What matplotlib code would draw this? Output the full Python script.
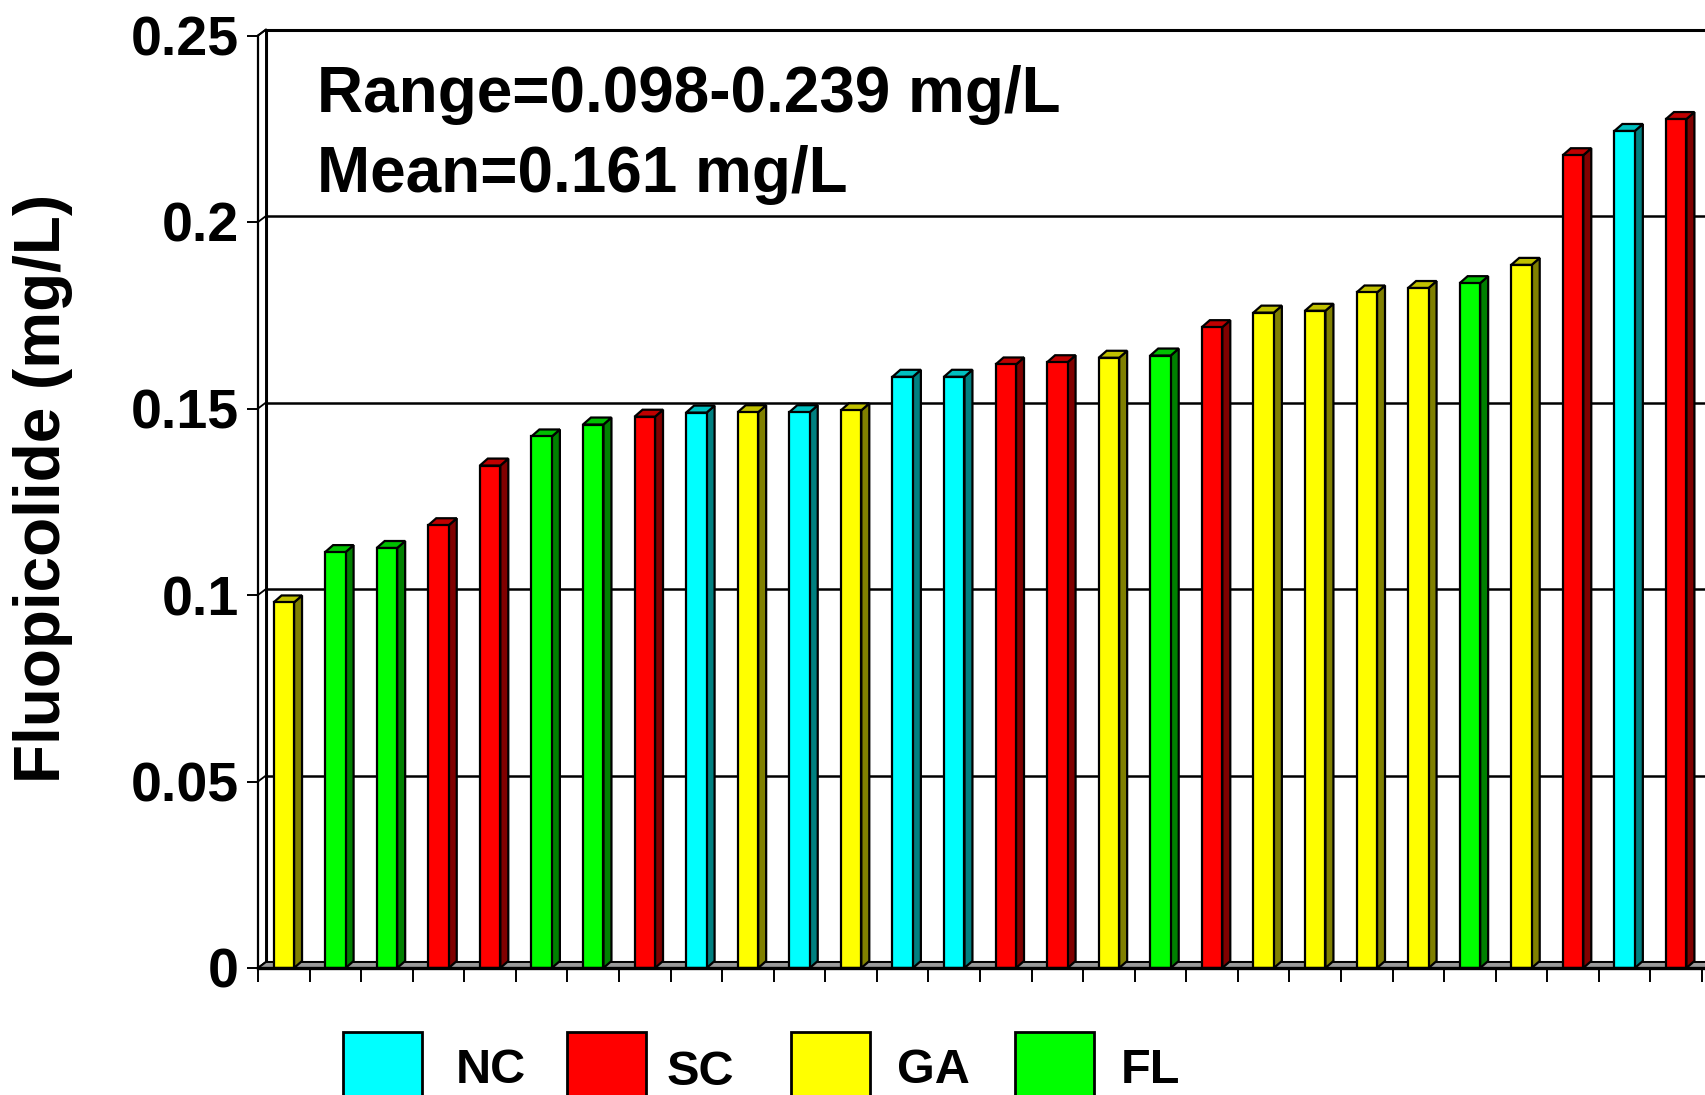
import matplotlib.pyplot as plt
from matplotlib.patches import Polygon, Rectangle
import numpy as np

plt.rcParams['font.family'] = ['Liberation Sans', 'DejaVu Sans']
plt.rcParams['font.weight'] = 'bold'

# --- data ---
states = ['NC', 'SC', 'GA', 'FL']
front_colors = ['#00FFFF', '#FF0000', '#FFFF00', '#00FF00']
side_colors = ['#008080', '#800000', '#808000', '#008000']
top_colors = ['#00C0C0', '#C00000', '#C0C000', '#00C000']

sample_state = ['GA', 'FL', 'FL', 'SC', 'SC', 'FL', 'FL', 'SC', 'NC', 'GA',
                'NC', 'GA', 'NC', 'NC', 'SC', 'SC', 'GA', 'FL', 'SC', 'GA',
                'GA', 'GA', 'GA', 'FL', 'GA', 'SC', 'NC', 'SC']
fluopicolide = [0.098, 0.1115, 0.1126, 0.1187, 0.1347, 0.1425, 0.1457, 0.1478,
                0.1489, 0.1490, 0.1490, 0.1495, 0.1585, 0.1585, 0.1618, 0.1624,
                0.1636, 0.1642, 0.1718, 0.1757, 0.1762, 0.1811, 0.1823, 0.1836,
                0.1885, 0.2179, 0.2244, 0.2276]
yticks = [0, 0.05, 0.1, 0.15, 0.2, 0.25]
ytick_labels = ['0', '0.05', '0.1', '0.15', '0.2', '0.25']

# --- layout (pixels of the 1705x1095 canvas) ---
W, H = 1705, 1095
px_per_cat = 51.57
px_per_unit = 3730.0
n_slots = 30          # axis runs past the right edge, like the cropped original
ymax = 0.25
wall_d = (8, 6)       # back wall offset, px
bar_d = (8, 7)        # bar depth, px
bar_w = 20.5 / px_per_cat


def shift(x, y, d):
    return (x + d[0] / px_per_cat, y + d[1] / px_per_unit)


fig = plt.figure(figsize=(W / 100, H / 100), dpi=100)
ax = fig.add_axes([258 / W, (H - 968) / H, n_slots * px_per_cat / W,
                   ymax * px_per_unit / H])
ax.set_xlim(0, n_slots)
ax.set_ylim(0, ymax)
ax.patch.set_visible(False)

# walls and floor
back = Polygon([shift(0, 0, wall_d), shift(n_slots, 0, wall_d),
                shift(n_slots, ymax, wall_d), shift(0, ymax, wall_d)],
               facecolor='white', edgecolor='black', lw=2.2, zorder=0.5,
               clip_on=False)
ax.add_patch(back)
for yv in yticks[1:-1]:
    p0 = shift(0, yv, wall_d)
    p1 = shift(n_slots, yv, wall_d)
    ax.plot([p0[0], p1[0]], [p0[1], p1[1]], color='black', lw=1.8, zorder=1,
            clip_on=False)
for yv in yticks:
    p1 = shift(0, yv, wall_d)
    ax.plot([0, p1[0]], [yv, p1[1]], color='black', lw=1.3, zorder=1.2,
            clip_on=False)
left_wall = Polygon([(0, 0), (0, ymax), shift(0, ymax, wall_d),
                     shift(0, 0, wall_d)], facecolor='white',
                    edgecolor='black', lw=1.4, zorder=1.1, clip_on=False)
ax.add_patch(left_wall)
floor = Polygon([(0, 0), (n_slots, 0), shift(n_slots, 0, wall_d),
                 shift(0, 0, wall_d)], facecolor='#9a9a9a',
                edgecolor='black', lw=1.4, zorder=1.5, clip_on=False)
ax.add_patch(floor)

# bars with a fake 3-D look
for i, (v, s) in enumerate(zip(fluopicolide, sample_state)):
    k = states.index(s)
    x0 = i + 0.5 - bar_w / 2
    x1 = x0 + bar_w
    ax.add_patch(Polygon([(x1, 0), (x1, v), shift(x1, v, bar_d),
                          shift(x1, 0, bar_d)], facecolor=side_colors[k],
                         edgecolor='black', lw=1.6, zorder=3, clip_on=False))
    ax.add_patch(Polygon([(x0, v), (x1, v), shift(x1, v, bar_d),
                          shift(x0, v, bar_d)], facecolor=top_colors[k],
                         edgecolor='black', lw=1.6, zorder=3, clip_on=False))
    ax.add_patch(Rectangle((x0, 0), bar_w, v, facecolor=front_colors[k],
                           edgecolor='black', lw=1.6, zorder=4, clip_on=False))

# axes
for sp in ['top', 'right']:
    ax.spines[sp].set_visible(False)
ax.spines['left'].set_linewidth(1.6)
ax.spines['bottom'].set_linewidth(2.4)
ax.spines['bottom'].set_zorder(5)
ax.set_yticks(yticks, ytick_labels)
ax.set_xticks(np.arange(0, n_slots + 1))
ax.tick_params(axis='y', length=8, width=1.4, direction='out', pad=6,
               labelsize=40)
ax.tick_params(axis='x', length=10, width=1.4, direction='out',
               labelbottom=False)

fig.text(43 / W, 1 - 488 / H, 'Fluopicolide (mg/L)', rotation=90,
         ha='center', va='center', fontsize=46, fontweight='bold')
fig.text(317 / W, 1 - 112 / H, 'Range=0.098-0.239 mg/L', ha='left',
         va='baseline', fontsize=46, fontweight='bold')
fig.text(317 / W, 1 - 192 / H, 'Mean=0.161 mg/L', ha='left',
         va='baseline', fontsize=46, fontweight='bold')

# legend drawn by hand (boxes run off the bottom edge)
box_x = [343, 567, 791, 1015]
label_x = [456, 667, 897, 1121]
label_base = [1083, 1085, 1083, 1083]
for k, s in enumerate(states):
    fig.patches.append(Rectangle((box_x[k] / W, (H - 1100) / H), 79 / W,
                                 68 / H, transform=fig.transFigure,
                                 facecolor=front_colors[k], edgecolor='black',
                                 lw=2))
    fig.text(label_x[k] / W, 1 - label_base[k] / H, s, ha='left',
             va='baseline', fontsize=35, fontweight='bold')

fig.savefig('out.png', dpi=100)
